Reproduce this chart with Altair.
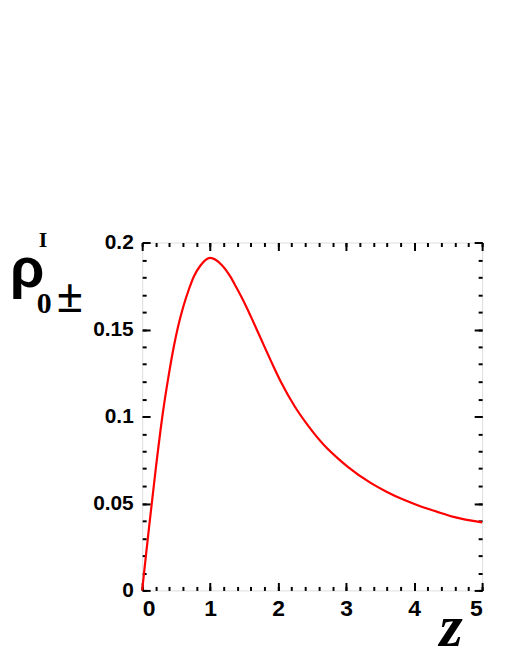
import altair as alt
import pandas as pd

# curve
z_vals = [0, 0.025, 0.1, 0.2, 0.3, 0.385, 0.467, 0.53, 0.6, 0.686, 0.76, 0.857, 1.0,
          1.17, 1.295, 1.39, 1.51, 1.635, 1.8, 1.9, 2.045, 2.24, 2.44, 2.68, 2.87, 3.02,
          3.36, 3.6, 3.84, 4.09, 4.33, 4.58, 5.0]
rho_vals = [0, 0.0092, 0.036, 0.07, 0.101, 0.1225, 0.1405, 0.152, 0.1625, 0.173, 0.1805,
            0.1868, 0.1912, 0.1871, 0.1805, 0.1738, 0.1648, 0.1543, 0.14, 0.1314, 0.1195,
            0.106, 0.0947, 0.0833, 0.0762, 0.0712, 0.0618, 0.0566, 0.0522, 0.0484, 0.0453,
            0.0423, 0.0391]

x_major = [0, 1, 2, 3, 4, 5]
x_minor = [round(0.2 * i, 1) for i in range(26)]
y_major = [0, 0.05, 0.1, 0.15, 0.2]
y_minor = [round(0.01 * i, 2) for i in range(21)]

W, H = 342, 350

df = pd.DataFrame({"z": z_vals, "rho": rho_vals})

xs = alt.Scale(domain=[0, 5], nice=False, zero=False)
ys = alt.Scale(domain=[0, 0.2], nice=False, zero=False)

LABEL_FONT = "Liberation Sans"


def tick_axis(orient, values, size, offset):
    return alt.Axis(orient=orient, values=values, tickSize=size, tickWidth=2,
                    tickColor="black", labels=False, domain=False, grid=False,
                    title=None, offset=offset)


line = alt.Chart(df).mark_line(color="#ff0000", strokeWidth=2.2, interpolate="monotone").encode(
    x=alt.X("z:Q", scale=xs,
            axis=alt.Axis(orient="bottom", values=x_major, ticks=False, domain=False,
                          grid=False, title=None, labels=True, labelFont=LABEL_FONT,
                          labelFontSize=23, labelFontWeight="bold", labelColor="black",
                          labelPadding=7, format="d")),
    y=alt.Y("rho:Q", scale=ys,
            axis=alt.Axis(orient="left", values=y_major, ticks=False, domain=False,
                          grid=False, title=None, labels=True, labelFont=LABEL_FONT,
                          labelFontSize=21, labelFontWeight="bold", labelColor="black",
                          labelPadding=9, format="~g")),
)


def axis_layer(xorient, xvals, xsize, xoff, yorient, yvals, ysize, yoff):
    return alt.Chart(df).mark_point(opacity=0).encode(
        x=alt.X("z:Q", scale=xs, axis=tick_axis(xorient, xvals, xsize, xoff)),
        y=alt.Y("rho:Q", scale=ys, axis=tick_axis(yorient, yvals, ysize, yoff)),
    )


# inward ticks on all four sides: axes flipped to the opposite edge via offset
bottom_left_major = axis_layer("top", x_major, 8, -H, "right", y_major, 8, -W)
bottom_left_minor = axis_layer("top", x_minor, 4, -H, "right", y_minor, 4, -W)
top_right_major = axis_layer("bottom", x_major, 8, -H, "left", y_major, 8, -W)
top_right_minor = axis_layer("bottom", x_minor, 4, -H, "left", y_minor, 4, -W)

title_rho = ["ρ"]
title_sup = ["I"]
title_sub0 = ["0"]
title_subpm = ["±"]
title_x = ["z"]


def label(texts, x, y, size, font, weight="normal", style="normal"):
    return alt.Chart(pd.DataFrame({"t": texts})).mark_text(
        align="left", baseline="alphabetic", font=font, fontSize=size,
        fontWeight=weight, fontStyle=style, color="black"
    ).encode(x=alt.value(x), y=alt.value(y), text="t:N")


texts = [
    label(title_rho, -133, 45, 56, "Liberation Sans", "bold"),
    label(title_sup, -104, 5, 22, "Liberation Serif", "bold"),
    label(title_sub0, -106, 71, 30, "Liberation Serif", "bold"),
    label(title_subpm, -86, 70, 48, "Liberation Serif", "bold"),
    label(title_x, 299, 406, 60, "Liberation Serif", "bold", "italic"),
]

chart = alt.layer(
    line, bottom_left_major, bottom_left_minor, top_right_major, top_right_minor, *texts
).resolve_axis(x="independent", y="independent").properties(
    width=W, height=H,
    autosize=alt.AutoSizeParams(type="none"),
    padding={"left": 135, "top": 234, "right": 20, "bottom": 58},
).configure_view(stroke="black", strokeWidth=2).configure(background="white")

chart.save("out.html", embed_options={"renderer": "svg", "actions": False})
